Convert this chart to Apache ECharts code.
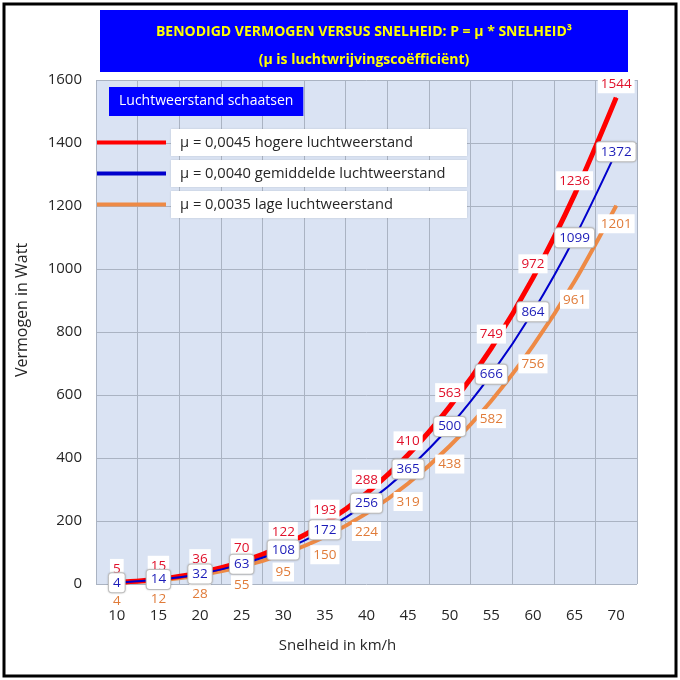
<!DOCTYPE html>
<html>
<head>
<meta charset="utf-8">
<script src="https://cdn.jsdelivr.net/npm/echarts@6/dist/echarts.min.js"></script>
<style>
  html, body { margin: 0; padding: 0; background: #fff; }
  #main { width: 680px; height: 680px; }
</style>
</head>
<body>
<div id="main"></div>
<script>
var snelheid = ['10', '15', '20', '25', '30', '35', '40', '45', '50', '55', '60', '65', '70'];
var hoog = [5, 15, 36, 70, 122, 193, 288, 410, 563, 749, 972, 1236, 1544];
var gemiddeld = [4, 14, 32, 63, 108, 172, 256, 365, 500, 666, 864, 1099, 1372];
var laag = [4, 12, 28, 55, 95, 150, 224, 319, 438, 582, 756, 961, 1201];
var namen = [
  'µ = 0,0045 hogere luchtweerstand',
  'µ = 0,0040 gemiddelde luchtweerstand',
  'µ = 0,0035 lage luchtweerstand'
];

var font = 'Open Sans';

// rode en oranje labels: vierkant wit vlak; blauwe: afgerond met rand
function labelStyle(color, pos, dist, rounded) {
  var l = {
    show: true,
    position: pos,
    distance: dist,
    color: color,
    fontFamily: font,
    fontSize: 13.5,
    backgroundColor: '#fff',
    padding: [3, 3, 2, 3]
  };
  if (rounded) {
    l.padding = [3, 4, 2, 4];
    l.borderRadius = 3;
    l.borderColor = '#c8c8c8';
    l.borderWidth = 1;
    l.shadowBlur = 2;
    l.shadowColor = 'rgba(0,0,0,0.2)';
  }
  return l;
}

var myChart = echarts.init(document.getElementById('main'));
myChart.setOption({
  backgroundColor: '#fff',
  animation: false,
  textStyle: { fontFamily: font },
  title: [{
    text: 'Luchtweerstand schaatsen',
    left: 109,
    top: 87,
    padding: [7, 10, 8, 10],
    backgroundColor: '#0000ff',
    textStyle: { color: '#fff', fontSize: 14, fontWeight: 'normal', fontFamily: font }
  }],
  graphic: [
    {
      type: 'rect',
      shape: { x: 4, y: 4, width: 672, height: 672 },
      style: { fill: 'none', stroke: '#000', lineWidth: 3 },
      z: 100
    },
    {
      type: 'rect',
      shape: { x: 100, y: 10, width: 528, height: 62 },
      style: { fill: '#0000ff' }
    },
    {
      type: 'text',
      x: 364,
      y: 46,
      style: {
        text: 'BENODIGD VERMOGEN VERSUS SNELHEID: P = µ * SNELHEID³\n(µ is luchtwrijvingscoëfficiënt)',
        fill: '#ffff00',
        font: 'bold 14px "Open Sans"',
        lineHeight: 28,
        align: 'center',
        verticalAlign: 'middle'
      }
    }
  ],
  legend: {
    orient: 'vertical',
    left: 97,
    top: 129,
    padding: 0,
    itemWidth: 69,
    itemHeight: 4,
    itemGap: 4,
    icon: 'rect',
    data: [
      { name: namen[0], itemStyle: { color: '#ff0000' } },
      { name: namen[1], itemStyle: { color: '#0000cc' } },
      { name: namen[2], itemStyle: { color: '#ee8a45' } }
    ],
    textStyle: {
      color: '#262626',
      fontSize: 14.7,
      fontFamily: font,
      backgroundColor: '#fff',
      padding: [7, 9, 5, 9],
      width: 278,
      shadowBlur: 2,
      shadowColor: 'rgba(0,0,0,0.12)'
    }
  },
  grid: { left: 96, right: 43, top: 80, bottom: 96, show: true, backgroundColor: '#dae3f3', borderWidth: 0 },
  xAxis: {
    type: 'category',
    data: snelheid,
    boundaryGap: true,
    name: 'Snelheid in km/h',
    nameLocation: 'middle',
    nameGap: 54,
    nameTextStyle: { color: '#262626', fontSize: 15, fontFamily: font, padding: [0, 58, 0, 0] },
    axisLine: { show: false },
    axisTick: { show: false },
    axisLabel: { color: '#262626', fontSize: 15, margin: 24, fontFamily: font },
    splitLine: { show: true, lineStyle: { color: '#aab3c2', width: 1 } }
  },
  yAxis: {
    type: 'value',
    min: 0,
    max: 1600,
    interval: 200,
    name: 'Vermogen in Watt',
    nameLocation: 'middle',
    nameGap: 66,
    nameTextStyle: { color: '#262626', fontSize: 16, fontFamily: font, padding: [0, 0, 0, 44] },
    axisLine: { show: false },
    axisTick: { show: false },
    axisLabel: {
      color: '#262626', fontSize: 15, margin: 14, fontFamily: font,
      formatter: function (v) { return String(v); }
    },
    splitLine: { show: true, lineStyle: { color: '#aab3c2', width: 1 } }
  },
  series: [
    {
      name: namen[2],
      type: 'line',
      data: laag,
      smooth: 0.3,
      symbol: 'circle',
      symbolSize: 1,
      itemStyle: { color: '#ee8a45' },
      lineStyle: { color: '#ee8a45', width: 4 },
      label: labelStyle('#e07b39', 'bottom', 8, false),
      z: 2
    },
    {
      name: namen[0],
      type: 'line',
      data: hoog,
      smooth: 0.3,
      symbol: 'circle',
      symbolSize: 1,
      itemStyle: { color: '#ff0000' },
      lineStyle: { color: '#ff0000', width: 5 },
      label: labelStyle('#e0102a', 'top', 4, false),
      z: 3
    },
    {
      name: namen[1],
      type: 'line',
      data: gemiddeld,
      smooth: 0.3,
      symbol: 'circle',
      symbolSize: 1,
      itemStyle: { color: '#0000cc' },
      lineStyle: { color: '#0000cc', width: 2 },
      label: labelStyle('#1c1cb8', 'inside', 0, true),
      z: 4
    }
  ]
});
</script>
</body>
</html>
